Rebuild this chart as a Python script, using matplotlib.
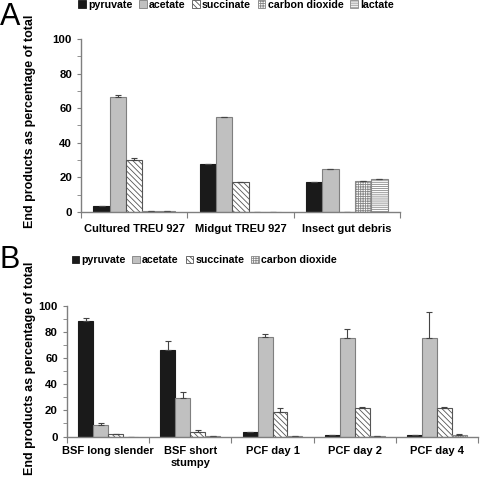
import numpy as np
import matplotlib
matplotlib.use("Agg")
import matplotlib.pyplot as plt
from matplotlib.patches import Patch

plt.rcParams['font.family'] = ['Liberation Sans', 'DejaVu Sans']
plt.rcParams['font.weight'] = 'bold'
plt.rcParams['hatch.linewidth'] = 0.6

# Panel A data
cats_a = ['Cultured TREU 927', 'Midgut TREU 927', 'Insect gut debris']
pyruvate_a = [3.2, 27.8, 17.3]
acetate_a = [66.2, 54.7, 24.7]
succinate_a = [29.9, 17.6, 0.0]
co2_a = [0.4, 0.0, 17.7]
lactate_a = [0.3, 0.0, 19.3]
pyruvate_a_err = [0.5, 0, 0]
acetate_a_err = [1.5, 0, 0]
succinate_a_err = [1.5, 0, 0]
co2_a_err = [0, 0, 0]
lactate_a_err = [0.3, 0, 0]

# Panel B data
cats_b = ['BSF long slender', 'BSF short\nstumpy', 'PCF day 1', 'PCF day 2', 'PCF day 4']
pyruvate_b = [88.5, 66.5, 3.3, 1.3, 0.8]
acetate_b = [9.0, 29.2, 76.5, 75.7, 75.4]
succinate_b = [2.0, 3.6, 18.7, 21.7, 21.5]
co2_b = [0.0, 0.5, 0.5, 0.5, 1.5]
pyruvate_b_err = [2.5, 6.4, 0.5, 0, 0.5]
acetate_b_err = [1.5, 5.1, 2.0, 6.9, 20.0]
succinate_b_err = [0, 1.5, 3.3, 1.1, 0.8]
co2_b_err = [0, 0, 0, 0, 0.5]

names = ['pyruvate', 'acetate', 'succinate', 'carbon dioxide', 'lactate']
styles = [
    dict(color='#1a1a1a', edgecolor='#1a1a1a', hatch=None),
    dict(color='#c0c0c0', edgecolor='#7f7f7f', hatch=None),
    dict(color='white', edgecolor='#555555', hatch='\\\\\\\\\\\\'),
    dict(color='white', edgecolor='#888888', hatch='+++++++'),
    dict(color='white', edgecolor='#888888', hatch='--------'),
]
axis_gray = '#7f7f7f'
fs = 8


def draw_panel(ax, cats, series, errs, labels, pad):
    n = len(series)
    w = 1.0 / (n + 1.5)
    x = np.arange(len(cats))
    for i, (vals, err) in enumerate(zip(series, errs)):
        pos = x - 0.5 + 0.75 * w + (i + 0.5) * w
        st = styles[i]
        ax.bar(pos, vals, w, facecolor=st['color'], edgecolor=st['edgecolor'],
               hatch=st['hatch'], linewidth=0.8, label=labels[i])
        e = np.array(err, dtype=float)
        ax.errorbar(pos, vals, yerr=[np.zeros_like(e), e], fmt='none',
                    ecolor='#444444', elinewidth=0.8, capsize=2.2, capthick=0.8)
    ax.set_xlim(-0.5, len(cats) - 0.5)
    ax.set_ylim(0, 100)
    ax.set_yticks(np.arange(0, 101, 20))
    ax.set_yticks(np.arange(0, 101, 10), minor=True)
    ax.set_xticks(np.arange(len(cats) + 1) - 0.5)
    ax.set_xticklabels([])
    ax.set_xticks(x, minor=True)
    ax.set_xticklabels(cats, minor=True, fontsize=fs, fontweight='bold')
    ax.tick_params(axis='x', which='minor', length=0, pad=pad)
    ax.tick_params(axis='x', which='major', length=4, color=axis_gray, direction='out')
    ax.tick_params(axis='y', which='both', length=3, color=axis_gray, direction='out',
                   labelsize=8.2)
    for lab in ax.get_yticklabels():
        lab.set_fontweight('bold')
    for s in ['top', 'right']:
        ax.spines[s].set_visible(False)
    for s in ['left', 'bottom']:
        ax.spines[s].set_color(axis_gray)
        ax.spines[s].set_linewidth(1.0)


fig = plt.figure(figsize=(4.8, 4.78), dpi=100)

ax_a = fig.add_axes([0.169, 0.5565, 0.664, 0.362])
draw_panel(ax_a, cats_a,
           [pyruvate_a, acetate_a, succinate_a, co2_a, lactate_a],
           [pyruvate_a_err, acetate_a_err, succinate_a_err, co2_a_err, lactate_a_err],
           names, pad=9)

ax_b = fig.add_axes([0.1396, 0.0868, 0.8564, 0.273])
draw_panel(ax_b, cats_b,
           [pyruvate_b, acetate_b, succinate_b, co2_b],
           [pyruvate_b_err, acetate_b_err, succinate_b_err, co2_b_err],
           names[:4], pad=7)


def legend_handles(k):
    return [Patch(facecolor=styles[i]['color'], edgecolor=styles[i]['edgecolor'],
                  hatch=styles[i]['hatch'], linewidth=0.6, label=names[i])
            for i in range(k)]


leg_kw = dict(frameon=False, handlelength=0.7, handleheight=0.7, handletextpad=0.2,
              columnspacing=0.65, prop={'weight': 'bold', 'size': 7.7})
fig.legend(handles=legend_handles(5), ncol=5, loc='center left',
           bbox_to_anchor=(0.143, 0.99), **leg_kw)
fig.legend(handles=legend_handles(4), ncol=4, loc='center left',
           bbox_to_anchor=(0.129, 0.456), **leg_kw)

ylab = 'End products as percentage of total'
fig.text(0.063, 0.746, ylab, rotation=90, ha='center', va='center',
         fontsize=9.0, fontweight='bold')
fig.text(0.063, 0.229, ylab, rotation=90, ha='center', va='center',
         fontsize=9.0, fontweight='bold')

fig.text(0.0, 0.995, 'A', fontsize=22, fontweight='normal', ha='left', va='top')
fig.text(0.0, 0.488, 'B', fontsize=22, fontweight='normal', ha='left', va='top')

fig.savefig('out.png', dpi=100)
